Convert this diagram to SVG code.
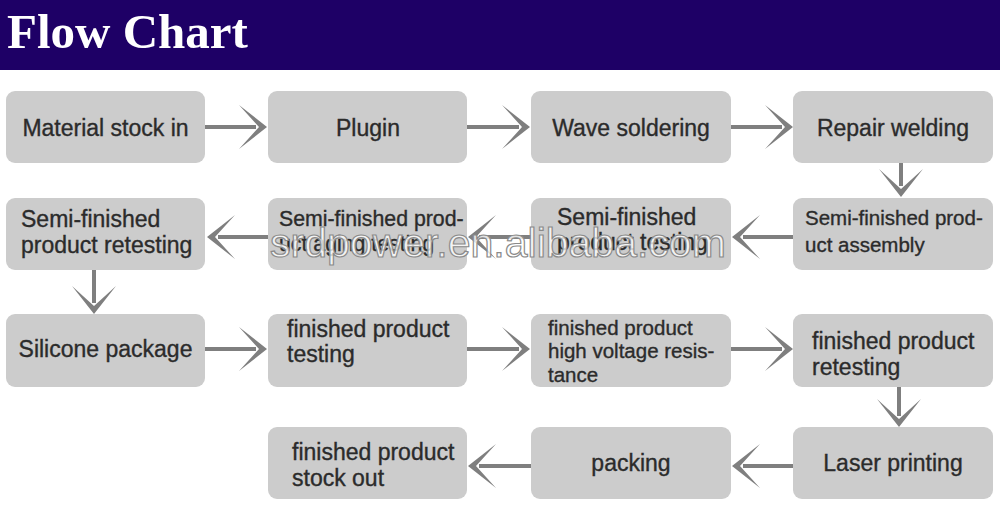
<svg xmlns="http://www.w3.org/2000/svg" width="1000" height="513" viewBox="0 0 1000 513">
<style>
.box{fill:#cccccc}
.t{font-family:"Liberation Sans",Arial,sans-serif;font-size:23px;fill:#2b2b2b;stroke:#2b2b2b;stroke-width:0.35}
.s{font-size:20.5px}
.c{text-anchor:middle}
.ln{stroke:#7f7f7f;stroke-width:4;fill:none;marker-end:url(#ah)}
</style>
<defs>
<marker id="ah" markerUnits="userSpaceOnUse" viewBox="-20 -25 40 50" markerWidth="40" markerHeight="50" refX="0" refY="0" orient="auto" overflow="visible">
<path d="M11,0 L-17,-22 L3,0 L-17,22 Z" fill="#7f7f7f"/>
</marker>
</defs>
<rect width="1000" height="513" fill="#ffffff"/>
<g id="header">
<rect x="0" y="0" width="1000" height="70" fill="#1e0066"/>
<text x="7" y="48" font-family="'Liberation Serif','Times New Roman',serif" font-weight="bold" font-size="49" fill="#ffffff">Flow Chart</text>
</g>
<g id="connectors">
<path class="ln" d="M205,127 H256"/>
<path class="ln" d="M467,127 H519"/>
<path class="ln" d="M731,127 H782"/>
<path class="ln" d="M901,163 V186"/>
<path class="ln" d="M793,237 H743"/>
<path class="ln" d="M531,237 H479"/>
<path class="ln" d="M268,237 H218"/>
<path class="ln" d="M94,270 V303"/>
<path class="ln" d="M205,349 H256"/>
<path class="ln" d="M467,349 H519"/>
<path class="ln" d="M731,349 H782"/>
<path class="ln" d="M899,387 V416"/>
<path class="ln" d="M793,466 H743"/>
<path class="ln" d="M531,466 H479"/>
</g>
<g id="n1"><rect class="box" x="6" y="91" width="199" height="72" rx="9"/><text class="t c" x="105.5" y="136">Material stock in</text></g>
<g id="n2"><rect class="box" x="268" y="91" width="199" height="72" rx="9"/><text class="t c" x="368" y="136">Plugin</text></g>
<g id="n3"><rect class="box" x="531" y="91" width="200" height="72" rx="9"/><text class="t c" x="631" y="136">Wave soldering</text></g>
<g id="n4"><rect class="box" x="793" y="91" width="200" height="72" rx="9"/><text class="t c" x="893" y="136">Repair welding</text></g>
<g id="n5"><rect class="box" x="793" y="198" width="200" height="72" rx="9"/><text class="t s" x="805" y="225">Semi-finished prod-</text><text class="t s" x="805" y="252">uct assembly</text></g>
<g id="n6"><rect class="box" x="531" y="198" width="200" height="72" rx="9"/><text class="t" x="557" y="225">Semi-finished</text><text class="t" x="557" y="250">product testing</text></g>
<g id="n7"><rect class="box" x="268" y="198" width="199" height="72" rx="9"/><text class="t" x="279" y="226" style="font-size:21.3px">Semi-finished prod-</text><text class="t" x="279" y="251" style="font-size:21.3px">uct aging testing</text></g>
<g id="n8"><rect class="box" x="6" y="198" width="199" height="72" rx="9"/><text class="t" x="21" y="227">Semi-finished</text><text class="t" x="21" y="253">product retesting</text></g>
<g id="n9"><rect class="box" x="6" y="314" width="199" height="73" rx="9"/><text class="t c" x="105.5" y="357">Silicone package</text></g>
<g id="n10"><rect class="box" x="268" y="314" width="199" height="73" rx="9"/><text class="t" x="287" y="337">finished product</text><text class="t" x="287" y="362">testing</text></g>
<g id="n11"><rect class="box" x="531" y="314" width="200" height="73" rx="9"/><text class="t s" x="548" y="335">finished product</text><text class="t s" x="548" y="358">high voltage resis-</text><text class="t s" x="548" y="382">tance</text></g>
<g id="n12"><rect class="box" x="793" y="314" width="200" height="73" rx="9"/><text class="t" x="812" y="349">finished product</text><text class="t" x="812" y="375">retesting</text></g>
<g id="n13"><rect class="box" x="793" y="427" width="200" height="72" rx="9"/><text class="t c" x="893" y="471">Laser printing</text></g>
<g id="n14"><rect class="box" x="531" y="427" width="200" height="72" rx="9"/><text class="t c" x="631" y="471">packing</text></g>
<g id="n15"><rect class="box" x="268" y="427" width="199" height="72" rx="9"/><text class="t" x="292" y="460">finished product</text><text class="t" x="292" y="486">stock out</text></g>
<g id="watermark"><text x="270" y="257" font-family="'Liberation Sans',Arial,sans-serif" font-size="41" fill="#ffffff" fill-opacity="0.8" stroke="#8a8a8a" stroke-width="1.2">srdpower.en.alibaba.com</text></g>
</svg>
